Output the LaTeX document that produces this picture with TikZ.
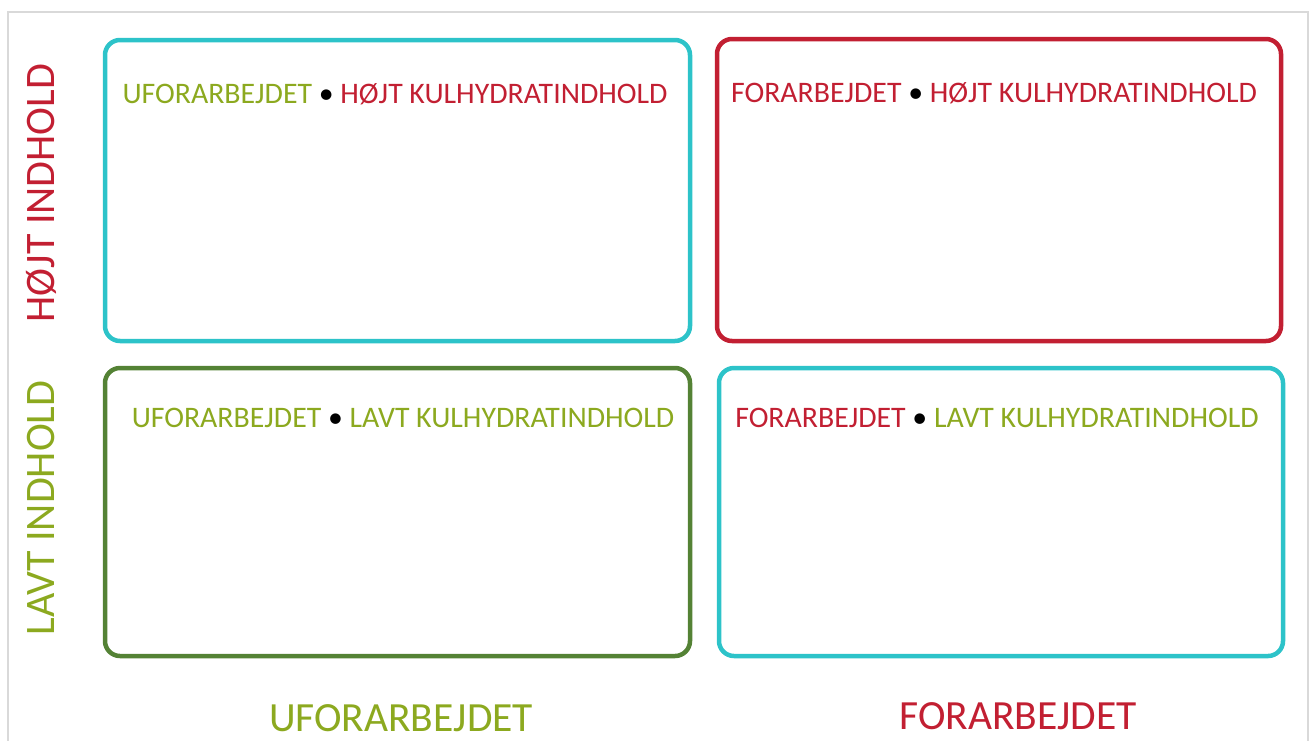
\documentclass[tikz,border=0pt]{standalone}
\usepackage{fontspec}
\setmainfont{Carlito}
\definecolor{cyanb}{HTML}{2DC3C9}
\definecolor{redb}{HTML}{C21F32}
\definecolor{greenb}{HTML}{548235}
\definecolor{greent}{HTML}{8CA91F}
\definecolor{framegrey}{HTML}{D9D9D9}
\begin{document}
\begin{tikzpicture}[x=1pt,y=-1pt,
  quad/.style={draw, line width=4.5pt, rounded corners=15pt, rectangle, inner sep=0pt, outer sep=0pt, anchor=north west},
  boxtext/.style={font=\fontsize{29.8}{30}\selectfont, inner sep=0pt, anchor=base},
  axlabel/.style={font=\fontsize{41.5}{42}\selectfont, inner sep=0pt},
  sidelabel/.style={font=\fontsize{42}{42}\selectfont, inner sep=0pt, rotate=90}]
\useasboundingbox (0,0) rectangle (1312,740);
\draw[framegrey, line width=1.5pt] (8,745) -- (8,12) -- (1308,12) -- (1308,745);
\node[quad, cyanb, minimum width=585pt, minimum height=301pt] (tl) at (105,40) {};
\node[quad, redb, minimum width=564pt, minimum height=302pt] (tr) at (717,39) {};
\node[quad, greenb, minimum width=585pt, minimum height=288pt] (bl) at (105,368) {};
\node[quad, cyanb, minimum width=564pt, minimum height=288pt] (br) at (719,368) {};
\node[boxtext] (tlt) at (395,103) {\textcolor{greent}{UFORARBEJDET} \textcolor{black}{•} \textcolor{redb}{HØJT KULHYDRATINDHOLD}};
\node[boxtext] (trt) at (994,102) {\textcolor{redb}{FORARBEJDET} \textcolor{black}{•} \textcolor{redb}{HØJT KULHYDRATINDHOLD}};
\node[boxtext] (blt) at (403,427) {\textcolor{greent}{UFORARBEJDET} \textcolor{black}{•} \textcolor{greent}{LAVT KULHYDRATINDHOLD}};
\node[boxtext] (brt) at (997,427) {\textcolor{redb}{FORARBEJDET} \textcolor{black}{•} \textcolor{greent}{LAVT KULHYDRATINDHOLD}};
\node[axlabel, text=greent] (xu) at (401,718) {UFORARBEJDET};
\node[axlabel, text=redb] (xf) at (1018,716) {FORARBEJDET};
\node[sidelabel, text=redb] (yh) at (41,193) {HØJT INDHOLD};
\node[sidelabel, text=greent] (yl) at (41,508) {LAVT INDHOLD};
\end{tikzpicture}
\end{document}
